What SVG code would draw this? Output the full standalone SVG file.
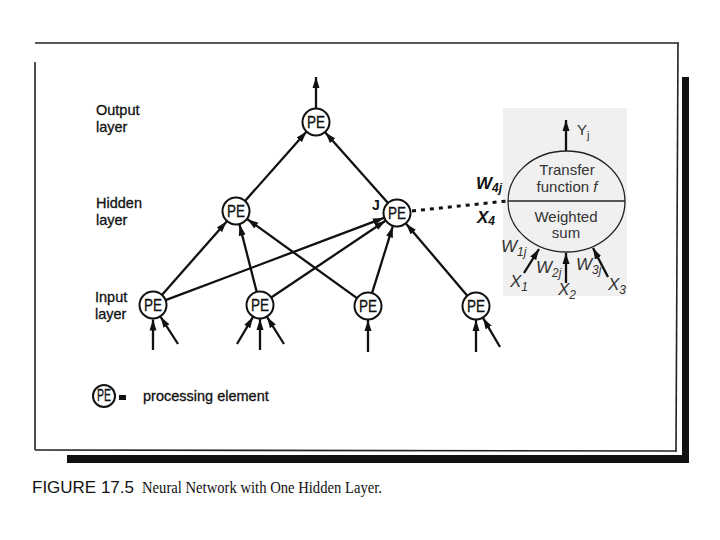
<svg xmlns="http://www.w3.org/2000/svg" width="720" height="540" viewBox="0 0 720 540">
<style>
.lbl{font-family:"Liberation Sans",Arial,sans-serif;font-size:14.5px;fill:#111;stroke:#111;stroke-width:0.3}
.pe{font-family:"Liberation Sans",Arial,sans-serif;font-size:16px;fill:#111;stroke:#111;stroke-width:0.3;text-anchor:middle}
.node{fill:#fff;stroke:#111;stroke-width:2}
.edge{stroke:#111;stroke-width:2.3;fill:none;marker-end:url(#ah)}
.inner{font-family:"Liberation Sans",Arial,sans-serif;font-size:15px;fill:#333;text-anchor:middle}
.wx{font-family:"Liberation Sans",Arial,sans-serif;font-style:italic;font-size:17px;fill:#333}
.wb{font-family:"Liberation Sans",Arial,sans-serif;font-style:italic;font-weight:bold;font-size:17px;fill:#111}
.frame{stroke:#222;stroke-width:1.6;fill:none}
</style>
<defs>
<marker id="ah" markerUnits="userSpaceOnUse" markerWidth="12" markerHeight="8" refX="11" refY="4" orient="auto">
<path d="M0,0.5 L11,4 L0,7.5 Z" fill="#111"/>
</marker>
</defs>
<rect width="720" height="540" fill="#fff"/>
<g id="frame">
<line class="frame" x1="35" y1="43" x2="679" y2="43"/>
<line class="frame" x1="678" y1="43" x2="676" y2="451"/>
<line class="frame" x1="35" y1="62" x2="35" y2="450"/>
<line class="frame" x1="35" y1="450" x2="677" y2="451"/>
<rect x="682" y="77" width="7" height="386" fill="#111"/>
<rect x="67" y="455" width="622" height="8" fill="#111"/>
</g>
<rect id="shade" x="503" y="108" width="124" height="188" fill="#f0f0f0"/>
<g id="labels">
<text class="lbl" x="96" y="115">Output</text>
<text class="lbl" x="96" y="132">layer</text>
<text class="lbl" x="96" y="208">Hidden</text>
<text class="lbl" x="96" y="225">layer</text>
<text class="lbl" x="95" y="302">Input</text>
<text class="lbl" x="95" y="319">layer</text>
</g>
<g id="connectors">
<line class="edge" x1="316" y1="108" x2="316" y2="77"/>
<line class="edge" x1="245" y1="201" x2="306.6" y2="131.6"/>
<line class="edge" x1="388" y1="202.9" x2="325.3" y2="132.5"/>
<line class="edge" x1="161.9" y1="294.9" x2="226.7" y2="221.5"/>
<line class="edge" x1="165.6" y1="300.2" x2="383.9" y2="217.9"/>
<line class="edge" x1="256.7" y1="291.9" x2="239.5" y2="224.6"/>
<line class="edge" x1="271.2" y1="297.5" x2="385.4" y2="220.8"/>
<line class="edge" x1="357" y1="298.1" x2="247.4" y2="219.2"/>
<line class="edge" x1="372" y1="293.1" x2="392.8" y2="226.4"/>
<line class="edge" x1="467.3" y1="295.7" x2="406.1" y2="223.7"/>
<line class="edge" x1="153" y1="350" x2="153" y2="319.5"/>
<line class="edge" x1="178" y1="344" x2="160.6" y2="316.8"/>
<line class="edge" x1="237" y1="344" x2="252.9" y2="317.1"/>
<line class="edge" x1="260" y1="350" x2="260" y2="319"/>
<line class="edge" x1="284" y1="344" x2="267.1" y2="317.1"/>
<line class="edge" x1="368" y1="352" x2="368" y2="320"/>
<line class="edge" x1="476" y1="352" x2="476" y2="320"/>
<line class="edge" x1="500" y1="347" x2="483.1" y2="318.1"/>
<line x1="412" y1="211" x2="507" y2="201" stroke="#111" stroke-width="3" stroke-dasharray="4 5"/>
<line class="edge" x1="566" y1="151" x2="566" y2="120"/>
<line class="edge" x1="524" y1="273" x2="539" y2="249"/>
<line class="edge" x1="566" y1="283" x2="566" y2="253"/>
<line class="edge" x1="608" y1="277" x2="593" y2="248"/>
</g>
<g id="pe-out"><circle class="node" cx="316" cy="122" r="13.5"/><text class="pe" x="316" y="128" textLength="18" lengthAdjust="spacingAndGlyphs">PE</text></g>
<g id="pe-hl"><circle class="node" cx="236" cy="211" r="13.5"/><text class="pe" x="236" y="217" textLength="18" lengthAdjust="spacingAndGlyphs">PE</text></g>
<g id="pe-hj"><circle class="node" cx="397" cy="213" r="13.5"/><text class="pe" x="397" y="219" textLength="18" lengthAdjust="spacingAndGlyphs">PE</text>
<text x="372" y="210" font-family="Liberation Sans,Arial,sans-serif" font-weight="bold" font-size="14" fill="#111">J</text></g>
<g id="pe-i1"><circle class="node" cx="153" cy="305" r="13.5"/><text class="pe" x="153" y="311" textLength="18" lengthAdjust="spacingAndGlyphs">PE</text></g>
<g id="pe-i2"><circle class="node" cx="260" cy="305" r="13.5"/><text class="pe" x="260" y="311" textLength="18" lengthAdjust="spacingAndGlyphs">PE</text></g>
<g id="pe-i3"><circle class="node" cx="368" cy="306" r="13.5"/><text class="pe" x="368" y="312" textLength="18" lengthAdjust="spacingAndGlyphs">PE</text></g>
<g id="pe-i4"><circle class="node" cx="476" cy="306" r="13.5"/><text class="pe" x="476" y="312" textLength="18" lengthAdjust="spacingAndGlyphs">PE</text></g>
<g id="neuron">
<ellipse cx="566.5" cy="201.5" rx="58.5" ry="50.5" fill="#f0f0f0" stroke="#222" stroke-width="1.3"/>
<line x1="508" y1="201" x2="625" y2="201" stroke="#222" stroke-width="1.3"/>
<text class="inner" x="567" y="175">Transfer</text>
<text class="inner" x="567" y="192">function <tspan font-style="italic">f</tspan></text>
<text class="inner" x="566" y="222">Weighted</text>
<text class="inner" x="566" y="238">sum</text>
<text x="577" y="135" font-family="Liberation Sans,Arial,sans-serif" font-size="15" fill="#333">Y<tspan font-size="11" dy="4">j</tspan></text>
<text class="wb" x="476" y="189">W<tspan font-size="12" dy="3">4j</tspan></text>
<text class="wb" x="477" y="223">X<tspan font-size="12" dy="2">4</tspan></text>
<text class="wx" x="501" y="252">W<tspan font-size="12" dy="4">1j</tspan></text>
<text class="wx" x="510" y="287">X<tspan font-size="12" dy="4">1</tspan></text>
<text class="wx" x="536" y="273">W<tspan font-size="12" dy="4">2j</tspan></text>
<text class="wx" x="558" y="295">X<tspan font-size="12" dy="4">2</tspan></text>
<text class="wx" x="576" y="270">W<tspan font-size="12" dy="4">3j</tspan></text>
<text class="wx" x="608" y="290">X<tspan font-size="12" dy="4">3</tspan></text>
</g>
<g id="legend">
<circle class="node" cx="104" cy="396" r="11" stroke-width="1.8"/>
<text class="pe" x="104" y="401" font-size="13" textLength="14" lengthAdjust="spacingAndGlyphs">PE</text>
<rect x="119" y="395" width="7" height="5" fill="#111"/>
<text class="lbl" x="143" y="401" stroke-width="0.15">processing element</text>
</g>
<g id="caption">
<text x="32" y="493" font-family="Liberation Sans,Arial,sans-serif" font-size="17" fill="#111" textLength="102" lengthAdjust="spacingAndGlyphs">FIGURE 17.5</text>
<text x="142" y="493" font-family="Liberation Serif,Times New Roman,serif" font-size="16.5" fill="#111" textLength="240" lengthAdjust="spacingAndGlyphs">Neural Network with One Hidden Layer.</text>
</g>
</svg>
